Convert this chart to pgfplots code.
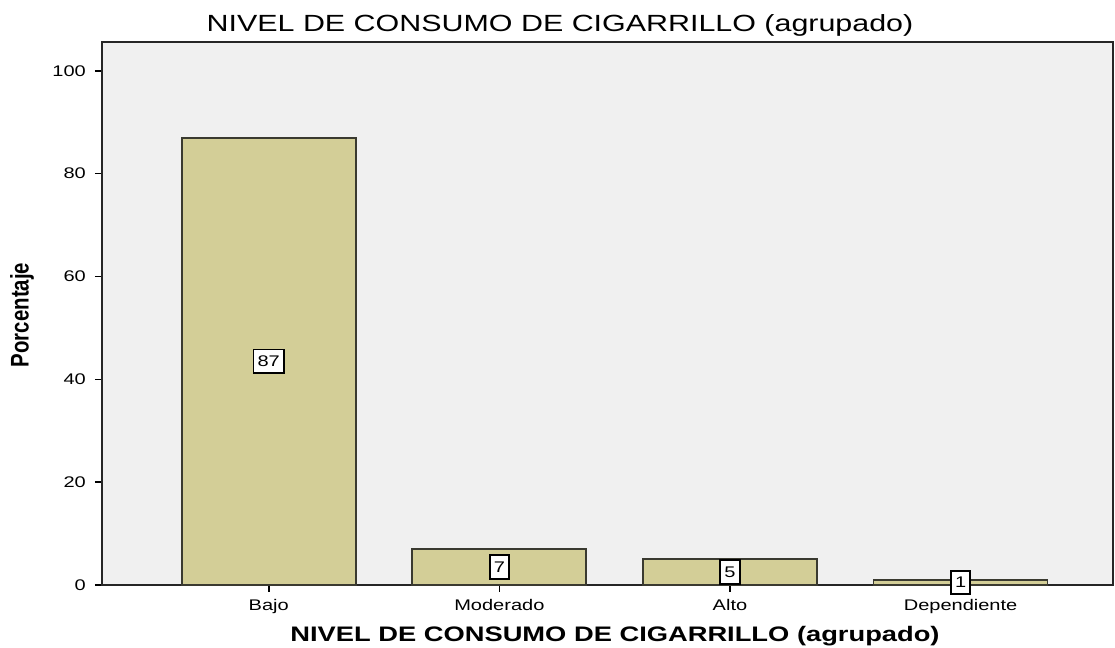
\documentclass[border=0pt]{standalone}
\usepackage{pgfplots}
\pgfplotsset{compat=1.18}
\usepackage{fontspec}
\setmainfont{Liberation Sans}
\usetikzlibrary{calc}
\definecolor{barfill}{HTML}{D3CE97}
\definecolor{bgc}{HTML}{F0F0F0}
\definecolor{baredge}{HTML}{3A3A30}
\begin{document}
\begin{tikzpicture}
\begin{axis}[
 name=ax,
 scale only axis,
 width=505.5pt, height=271.5pt,
 xmin=-0.723, xmax=3.661, ymin=0, ymax=105.6,
 axis background/.style={fill=bgc},
 ybar, bar width=87pt,
 xtick={0,1,2,3}, xticklabels={Bajo,Moderado,Alto,Dependiente},
 ytick={0,20,40,60,80,100},
 tick align=outside, tick pos=left,
 major tick length=3.5pt,
 tick style={black, line width=0.8pt},
 ticklabel style={font=\fontsize{7.7}{9}\selectfont, xscale=1.3},
 /pgf/number format/assume math mode=true,
 clip=false,
 axis line style={black!85, line width=0.8pt},
 nodes near coords,
 visualization depends on=y \as \rawy,
 every node near coord/.append style={anchor=center, shift={(axis direction cs:0,-\rawy/2)}, fill=white, draw=black, line width=0.9pt, inner xsep=1.6pt, inner ysep=3.2pt, font=\fontsize{7.7}{9}\selectfont, xscale=1.3},
]
\addplot[fill=barfill, draw=baredge, line width=0.9pt] coordinates {(0,87) (1,7) (2,5) (3,1)};
\end{axis}
\node[font=\fontsize{11.7}{13}\selectfont, xscale=1.3] at ($(ax.north west)+(229pt,8.5pt)$) {NIVEL DE CONSUMO DE CIGARRILLO (agrupado)};
\node[font=\bfseries\fontsize{10.5}{12}\selectfont, xscale=1.3] at ($(ax.south west)+(256.5pt,-25.5pt)$) {NIVEL DE CONSUMO DE CIGARRILLO (agrupado)};
\node[font=\bfseries\fontsize{10.2}{12}\selectfont, xscale=1.25, rotate=90] at ($(ax.south west)+(-40pt,135pt)$) {Porcentaje};
\pgfresetboundingbox
\useasboundingbox ($(ax.south west)+(-51pt,-31.5pt)$) rectangle ($(ax.north east)+(1pt,21pt)$);
\end{tikzpicture}
\end{document}
